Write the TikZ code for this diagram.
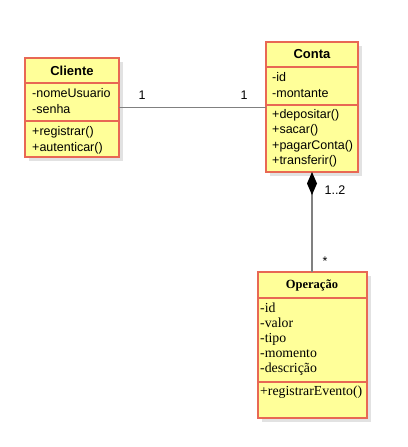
\documentclass[tikz,border=0pt]{standalone}
\usepackage{fontspec}
\setmainfont{Liberation Sans}
\newfontfamily\serifuml{Liberation Serif}
\usetikzlibrary{arrows.meta,shadows}
\definecolor{umlFill}{RGB}{255,255,153}
\definecolor{umlBorder}{RGB}{232,104,84}
\definecolor{umlShadow}{RGB}{226,226,226}
\definecolor{umlLine}{RGB}{128,128,128}

\begin{document}
\begin{tikzpicture}
[x=1pt,y=-1pt,
  classBox/.style={draw=umlBorder,fill=umlFill,line width=1.5pt,inner sep=0pt,outer sep=0pt,
    anchor=north west,drop shadow={shadow xshift=4pt,shadow yshift=-4pt,fill=umlShadow,opacity=1}},%
  classSep/.style={draw=umlBorder,line width=1.5pt},%
  classTitle/.style={inner sep=0pt,font=\fontsize{13}{15}\selectfont\bfseries},%
  memberText/.style={inner sep=0pt,anchor=base west,font=\fontsize{12.5}{15}\selectfont},%
  serifTitle/.style={inner sep=0pt,font=\fontsize{12.5}{15}\serifuml\bfseries},%
  serifText/.style={inner sep=0pt,anchor=base west,font=\fontsize{13.8}{15}\serifuml},%
  multText/.style={inner sep=0pt,font=\fontsize{12.5}{15}\selectfont},%
  assocLine/.style={draw=umlLine,line width=1.8pt},%
  compLine/.style={draw=umlLine,line width=1.8pt,{Diamond[length=23pt,width=10pt,color=black,fill=black]}-}]
\useasboundingbox[fill=white] (0,0) rectangle (407,447);

%% class boxes
\node[classBox,minimum width=94pt,minimum height=99pt] (cliente) at (25,58) {};
\node[classBox,minimum width=92pt,minimum height=130pt] (conta) at (266,42) {};
\node[classBox,minimum width=109pt,minimum height=146pt] (operacao) at (258,272) {};

%% separators
\foreach \cls/\top/\bottom in {cliente/25/63, conta/25/63, operacao/26/110}
{
  \draw[classSep] ([yshift=-\top pt]\cls.north west) -- ([yshift=-\top pt]\cls.north east);
  \draw[classSep] ([yshift=-\bottom pt]\cls.north west) -- ([yshift=-\bottom pt]\cls.north east);
}

%% titles
\node[classTitle] (clienteTitle) at (72,70.5) {Cliente};
\node[classTitle] (contaTitle) at (312,54.5) {Conta};
\node[serifTitle] (operacaoTitle) at (312,285) {Operação};

%% members
\foreach \txt [count=\i] in {-nomeUsuario,-senha}
  \node[memberText] (clienteAttr\i) at (32,{97+16*(\i-1)}) {\txt};
\foreach \txt [count=\i] in {+registrar(),+autenticar()}
  \node[memberText] (clienteOp\i) at (32,{135+16*(\i-1)}) {\txt};
\foreach \txt [count=\i] in {-id,-montante}
  \node[memberText] (contaAttr\i) at (272,{81.5+15.5*(\i-1)}) {\txt};
\foreach \txt [count=\i] in {+depositar(),+sacar(),+pagarConta(),+transferir()}
  \node[memberText] (contaOp\i) at (272,{118+15.5*(\i-1)}) {\txt};
\foreach \txt [count=\i] in {-id,-valor,-tipo,-momento,-descrição}
  \node[serifText] (operacaoAttr\i) at (260,{312+15*(\i-1)}) {\txt};
\node[serifText] (operacaoOp1) at (260,395) {+registrarEvento()};

%% connectors
\draw[assocLine] (cliente.east) -- (cliente.east -| conta.west);
\draw[compLine] (conta.south) -- (conta.south |- operacao.north);

%% multiplicities
\node[multText] (clienteMult) at (142,95) {1};
\node[multText] (contaMult) at (244,95) {1};
\node[multText] (contaComp) at (335,190) {1..2};
\node[multText] (operacaoMult) at (325,261) {*};
\end{tikzpicture}
\end{document}
